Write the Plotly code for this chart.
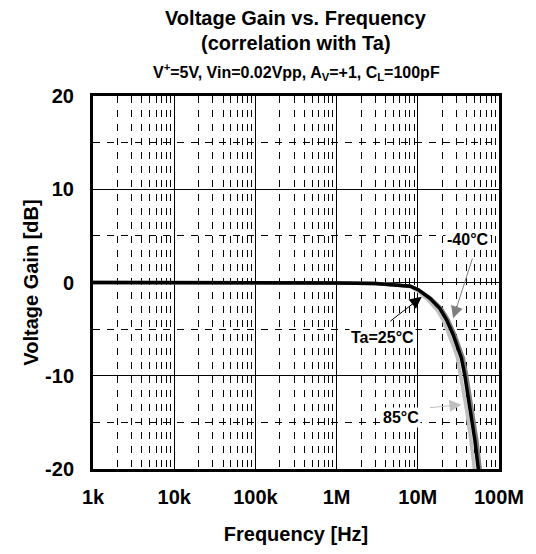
import plotly.graph_objects as go

# Voltage gain vs frequency, three ambient temperatures
freq_25 = [1e3, 1e4, 1e5, 1e6, 3e6, 5.5e6, 8.1e6, 1.02e7, 1.41e7, 1.87e7,
           2.26e7, 2.72e7, 3.13e7, 3.44e7, 3.78e7, 4.07e7, 4.43e7, 4.78e7,
           5.06e7, 5.35e7, 5.55e7, 5.65e7]
gain_25 = [0.0, 0.0, 0.0, -0.05, -0.12, -0.25, -0.4, -0.8, -1.7, -2.8,
           -4.0, -5.6, -7.0, -8.1, -9.9, -11.7, -13.5, -15.3,
           -17.0, -18.8, -19.9, -20.5]

freq_m40 = [1e3, 1e4, 1e5, 1e6, 3e6, 5.5e6, 8.1e6, 1.03e7, 1.45e7, 1.95e7,
            2.37e7, 2.86e7, 3.3e7, 3.63e7, 3.99e7, 4.3e7, 4.68e7, 5.05e7,
            5.35e7, 5.65e7, 5.87e7, 5.97e7]
gain_m40 = [0.0, 0.0, 0.0, -0.05, -0.12, -0.25, -0.4, -0.8, -1.7, -2.8,
            -4.0, -5.6, -7.0, -8.1, -9.9, -11.7, -13.5, -15.3,
            -17.0, -18.8, -19.9, -20.5]

freq_85 = [1e3, 1e4, 1e5, 1e6, 3e6, 5.5e6, 8.1e6, 1.0e7, 1.35e7, 1.75e7,
           2.05e7, 2.45e7, 2.8e7, 3.08e7, 3.38e7, 3.64e7, 3.96e7, 4.27e7,
           4.52e7, 4.78e7, 4.96e7, 5.05e7]
gain_85 = [0.0, 0.0, 0.0, -0.05, -0.12, -0.25, -0.45, -0.9, -1.9, -3.0,
           -4.0, -5.6, -7.0, -8.1, -9.9, -11.7, -13.5, -15.3,
           -17.0, -18.8, -19.9, -20.5]

x_ticks = [1e3, 1e4, 1e5, 1e6, 1e7, 1e8]
x_labels = ["1k", "10k", "100k", "1M", "10M", "100M"]
y_ticks = [-20, -10, 0, 10, 20]
y_labels = ["-20", "-10", "0", "10", "20"]

FONT = "Arial, Liberation Sans, sans-serif"

fig = go.Figure()
fig.add_trace(go.Scatter(x=freq_85, y=gain_85, mode="lines",
                         line=dict(color="#c0c0c0", width=3.5), name="85°C"))
fig.add_trace(go.Scatter(x=freq_m40, y=gain_m40, mode="lines",
                         line=dict(color="#7f7f7f", width=3.5), name="-40°C"))
fig.add_trace(go.Scatter(x=freq_25, y=gain_25, mode="lines",
                         line=dict(color="black", width=3.5), name="25°C"))

fig.update_xaxes(
    type="log", range=[3, 8],
    tickvals=x_ticks, ticktext=x_labels,
    showgrid=True, gridcolor="black", gridwidth=1,
    minor=dict(dtick="D1", showgrid=True, gridcolor="black", gridwidth=1,
               griddash="7px,7px"),
    showline=True, mirror=True, linecolor="black", linewidth=3,
    ticks="", ticklabelstandoff=8,
    tickfont=dict(family=FONT, size=20, color="black", weight="bold"),
    title=dict(text="<b>Frequency [Hz]</b>",
               font=dict(family=FONT, size=20, color="black"), standoff=20),
    zeroline=False,
)
fig.update_yaxes(
    range=[-20, 20], tickvals=y_ticks, ticktext=y_labels,
    showgrid=True, gridcolor="black", gridwidth=1,
    minor=dict(dtick=5, showgrid=True, gridcolor="black", gridwidth=1,
               griddash="7px,7px"),
    showline=True, mirror=True, linecolor="black", linewidth=3,
    ticks="", ticklabelstandoff=12,
    tickfont=dict(family=FONT, size=20, color="black", weight="bold"),
    title=dict(text="<b>Voltage Gain [dB]</b>",
               font=dict(family=FONT, size=20, color="black"), standoff=2),
    zeroline=False,
)

# titles
fig.add_annotation(text="<b>Voltage Gain vs. Frequency</b>", xref="paper", yref="paper",
                   x=0.5, y=1.2085, yanchor="middle", showarrow=False,
                   font=dict(family=FONT, size=20, color="black"))
fig.add_annotation(text="<b>(correlation with Ta)</b>", xref="paper", yref="paper",
                   x=0.5, y=1.1413, yanchor="middle", showarrow=False,
                   font=dict(family=FONT, size=20, color="black"))
fig.add_annotation(text="<b>V<sup>+</sup>=5V, Vin=0.02Vpp, A<sub>V</sub>=+1, C<sub>L</sub>=100pF</b>",
                   xref="paper", yref="paper", x=0.5, y=1.064, yanchor="middle",
                   showarrow=False, font=dict(family=FONT, size=16, color="black"))

# curve labels with arrows
lab_font = dict(family=FONT, size=16, color="black")
fig.add_annotation(x=7.435, y=-3.84, ax=7.679, ay=2.74, axref="x", ayref="y",
                   text="", showarrow=True, arrowhead=2, arrowsize=2.4,
                   arrowwidth=1, arrowcolor="#7f7f7f")
fig.add_annotation(x=7.049, y=-1.53, ax=6.643, ay=-4.27, axref="x", ayref="y",
                   text="", showarrow=True, arrowhead=2, arrowsize=2.4,
                   arrowwidth=1, arrowcolor="black")
fig.add_annotation(x=7.537, y=-13.1, ax=7.13, ay=-13.44, axref="x", ayref="y",
                   text="", showarrow=True, arrowhead=2, arrowsize=2.4,
                   arrowwidth=1, arrowcolor="#c0c0c0")
fig.add_annotation(x=7.62, y=4.59, text="<b>-40°C</b>", showarrow=False,
                   font=lab_font, bgcolor="white")
fig.add_annotation(x=6.56, y=-5.85, text="<b>Ta=25°C</b>", showarrow=False,
                   font=lab_font, bgcolor="white")
fig.add_annotation(x=6.79, y=-14.5, text="<b>85°C</b>", showarrow=False,
                   font=lab_font, bgcolor="white")

# page body keeps an 8px margin, so the figure is 8px smaller than the window
fig.update_layout(
    width=528, height=546,
    margin=dict(l=85, r=33, t=88, b=83),
    plot_bgcolor="white", paper_bgcolor="white",
    showlegend=False,
    font=dict(family=FONT, color="black"),
)

fig.write_html("out.html")
